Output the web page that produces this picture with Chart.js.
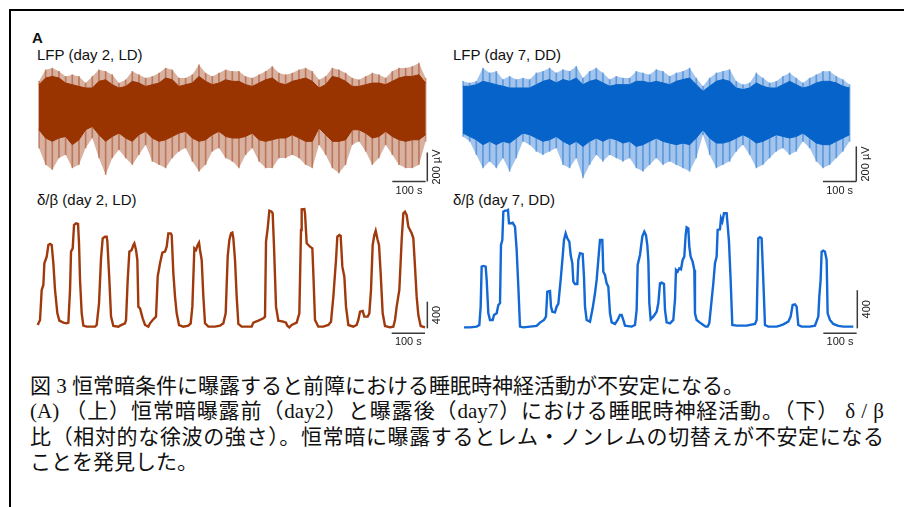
<!DOCTYPE html>
<html><head><meta charset="utf-8">
<script src="https://cdn.jsdelivr.net/npm/chart.js@4.4.1/dist/chart.umd.min.js"></script>
<style>
html,body{margin:0;padding:0;background:#fff;}
#fig{position:relative;width:904px;height:507px;overflow:hidden;background:#fff;}
.bd{position:absolute;background:#000;}
.lab{position:absolute;font-family:"Liberation Sans",Arial,sans-serif;font-size:15px;line-height:15px;color:#111;white-space:nowrap;}
canvas{position:absolute;}
.cap{position:absolute;left:30px;width:854px;font-family:"Liberation Serif","Noto Sans CJK JP",serif;font-size:21px;line-height:25px;color:#111;white-space:nowrap;}
.just{text-align:justify;text-align-last:justify;}
</style></head>
<body>
<div id="fig">
  <div class="bd" style="left:9px;top:9px;width:895px;height:2px"></div>
  <div class="bd" style="left:9px;top:9px;width:2px;height:498px"></div>
  <div class="lab" style="left:32px;top:30px;font-weight:bold">A</div>
  <div class="lab" style="left:37px;top:46.6px">LFP (day 2, LD)</div>
  <div class="lab" style="left:453px;top:46.6px">LFP (day 7, DD)</div>
  <div class="lab" style="left:37px;top:191.8px">δ/β (day 2, LD)</div>
  <div class="lab" style="left:453px;top:191.8px">δ/β (day 7, DD)</div>
  <canvas id="c1" width="460" height="150" style="left:0px;top:50px"></canvas>
  <canvas id="c2" width="464" height="150" style="left:440px;top:50px"></canvas>
  <canvas id="c3" width="460" height="150" style="left:0px;top:200px"></canvas>
  <canvas id="c4" width="464" height="150" style="left:440px;top:200px"></canvas>
  <div class="cap" style="top:374.4px">図 3 恒常暗条件に曝露すると前障における睡眠時神経活動が不安定になる。</div>
  <div class="cap just" style="top:399.4px">(A) （上）恒常暗曝露前（day2）と曝露後（day7）における睡眠時神経活動。（下） δ / β</div>
  <div class="cap just" style="top:425.4px">比（相対的な徐波の強さ）。恒常暗に曝露するとレム・ノンレムの切替えが不安定になる</div>
  <div class="cap" style="top:450.4px">ことを発見した。</div>
</div>
<script>
// ---------- LFP envelopes (µV), sampled every 20 s ----------
const LFP_STEP_S = 20;
const lfpLD_topSpike = [191,271,283,260,225,237,225,179,225,271,260,237,179,202,260,237,214,225,248,283,271,214,214,237,306,248,225,248,271,260,
  260,225,214,237,260,294,248,237,248,271,283,260,202,225,283,271,248,214,202,225,248,237,214,260,283,283,294,317,214];
const lfpLD_topBody = [168,214,225,214,179,168,156,145,145,191,202,168,145,156,191,179,156,168,179,214,202,156,168,179,225,191,168,179,202,191,
  191,168,156,179,202,214,179,168,191,202,214,191,145,168,225,214,191,156,156,168,179,179,168,191,214,225,225,237,179];
const lfpLD_botBody = [-143,-200,-223,-200,-189,-246,-212,-143,-120,-177,-223,-189,-166,-200,-223,-177,-154,-200,-223,-212,-189,-166,-154,-200,-223,-212,-177,-154,-189,-200,
  -200,-189,-166,-212,-223,-212,-200,-200,-177,-200,-223,-223,-131,-177,-223,-223,-212,-143,-143,-166,-200,-189,-154,-189,-212,-223,-212,-212,-177];
const lfpLD_botSpike = [-269,-384,-419,-338,-315,-407,-384,-269,-200,-338,-453,-338,-281,-338,-384,-315,-246,-361,-384,-407,-338,-292,-269,-361,-430,-384,-292,-269,-338,-361,
  -407,-315,-269,-361,-407,-407,-338,-338,-315,-338,-384,-407,-246,-315,-407,-442,-384,-246,-223,-292,-384,-338,-246,-315,-384,-407,-407,-384,-223];

const lfpDD_topSpike = [171,162,171,247,219,228,181,200,181,190,181,219,228,247,219,238,228,257,190,228,247,219,181,200,190,190,228,219,209,238,
  228,200,219,228,247,190,143,190,219,228,238,171,152,162,219,190,162,171,200,219,190,162,190,209,228,228,200,181,152];
const lfpDD_topBody = [143,143,152,171,162,152,143,133,133,133,133,152,171,181,162,181,171,190,152,171,181,162,143,152,152,152,171,171,162,171,
  162,152,171,181,190,152,114,143,171,181,171,133,124,133,162,143,133,133,152,171,152,133,143,162,171,171,162,143,133];
const lfpDD_botBody = [-124,-143,-162,-190,-171,-190,-171,-181,-152,-124,-133,-152,-171,-162,-143,-171,-190,-171,-200,-171,-152,-171,-152,-162,-181,-171,-200,-190,-171,-152,
  -171,-181,-190,-181,-190,-152,-105,-152,-181,-181,-171,-152,-133,-152,-181,-171,-152,-133,-143,-152,-143,-124,-152,-181,-190,-190,-171,-152,-133];
const lfpDD_botSpike = [-143,-171,-247,-323,-285,-323,-266,-342,-266,-171,-190,-228,-247,-228,-209,-304,-323,-266,-380,-304,-247,-285,-247,-266,-285,-266,-323,-342,-304,-266,
  -304,-285,-304,-323,-342,-266,-133,-247,-323,-304,-285,-228,-190,-247,-323,-304,-266,-228,-209,-247,-228,-171,-209,-285,-323,-304,-266,-228,-171];

// ---------- δ/β traces: time (s) and value ----------
const dbLD_t = [0,7,12,17,20,27,32,37,42,47,52,59,65,77,87,92,97,100,105,109,115,121,124,127,132,137,147,172,177,184,
  190,195,202,207,209,215,220,227,242,247,262,265,270,275,282,287,290,295,299,302,307,315,322,332,337,345,355,360,367,374,
  382,387,392,399,402,407,412,417,424,437,452,459,464,470,475,480,484,487,492,497,502,512,532,547,557,564,570,575,580,584,
  587,592,597,602,612,642,647,662,677,682,685,690,695,702,705,709,715,722,737,745,749,755,762,777,785,790,792,800,802,807,
  812,817,824,827,832,842,857,872,880,887,895,899,905,909,914,920,925,932,947,957,962,967,975,980,990,995,1000,1005,1010,1014,
  1020,1024,1029,1035,1042,1057,1067,1072,1077,1085,1092,1097,1102,1107,1112,1117,1122,1127,1132,1137,1142,1149,1162];
const dbLD_v = [50,125,575,650,975,1075,1250,1265,1250,975,575,225,115,85,75,85,575,1150,1200,1550,1575,1565,1275,725,225,40,25,25,50,375,
  1050,1350,1375,1375,1300,725,175,35,25,40,75,125,725,1150,1175,1250,1275,1175,1025,325,300,150,50,25,75,125,175,775,975,1135,
  1150,1225,1425,1425,1400,825,475,225,50,25,40,75,325,1200,1175,1250,1285,1175,1025,475,75,25,25,40,75,225,1075,1325,1425,1435,
  1350,1025,475,65,25,25,85,115,150,175,1300,1500,1765,1750,1725,1225,325,115,100,85,40,15,50,85,225,1475,1785,1790,1725,1275,
  1250,1225,1200,825,125,25,25,50,100,475,1025,1375,1400,1385,925,775,325,50,25,50,125,250,260,175,175,225,575,1250,1400,1465,
  1325,1250,825,225,35,15,25,125,325,575,1325,1725,1750,1700,1525,1475,1425,1350,925,475,200,35,15];

const dbDD_t = [0,18,38,46,50,53,58,65,68,73,78,86,90,98,103,108,111,115,118,123,128,132,135,140,146,153,158,163,168,178,
  218,228,240,246,250,258,261,265,273,278,283,290,296,300,305,310,316,320,325,328,333,340,343,348,356,360,363,368,378,386,
  393,398,403,408,415,418,423,428,433,438,443,453,461,468,473,478,483,503,513,518,521,528,535,541,546,550,553,556,560,568,
  578,583,588,593,600,603,608,618,628,633,636,641,646,651,656,661,665,668,673,676,680,686,691,693,698,708,718,725,731,736,
  743,748,753,758,761,768,771,775,780,788,791,795,800,805,818,848,873,878,883,888,893,898,903,913,938,948,958,973,980,986,
  993,998,1003,1013,1038,1053,1063,1066,1070,1073,1078,1083,1088,1091,1098,1108,1123,1138,1168];
const dbDD_v = [10,10,18,35,228,648,655,648,508,158,88,88,140,158,245,263,875,928,1225,1236,1236,1243,1103,1103,1110,1068,823,438,18,10,
  25,60,88,123,385,392,228,175,168,228,256,508,753,928,998,945,910,770,683,490,466,466,718,788,781,543,228,88,70,210,
  368,508,718,928,928,595,560,473,438,158,63,46,88,140,140,88,28,18,35,193,665,770,963,1015,980,875,718,263,95,123,
  175,263,473,480,466,193,63,53,88,298,613,595,630,620,718,753,980,1061,1050,858,753,700,613,158,88,60,35,18,18,53,
  298,473,683,753,1033,1040,1155,1120,1208,1208,1085,910,508,35,28,28,46,88,945,956,945,508,35,18,18,28,42,70,123,245,
  252,228,35,18,18,28,123,333,508,805,816,805,718,158,88,46,25,18,18];

// ---------- scale-bar plugin ----------
const scaleBarPlugin = {
  id: 'scalebar',
  afterDraw(chart, args, o) {
    const {ctx, chartArea} = chart;
    const xs = chart.scales.x, ys = chart.scales.y;
    ctx.save();
    ctx.strokeStyle = '#3a3a3a';
    ctx.lineWidth = 1.5;
    const hx0 = xs.getPixelForValue(o.hStart), hx1 = xs.getPixelForValue(o.hStart + o.hLen);
    const hy = chartArea.bottom + o.hOff;
    ctx.beginPath(); ctx.moveTo(hx0, hy); ctx.lineTo(hx1, hy); ctx.stroke();
    const vx = xs.getPixelForValue(o.vX);
    const vy0 = ys.getPixelForValue(o.vStart), vy1 = ys.getPixelForValue(o.vStart + o.vLen);
    ctx.beginPath(); ctx.moveTo(vx, vy0); ctx.lineTo(vx, vy1); ctx.stroke();
    ctx.fillStyle = '#1a1a1a';
    ctx.font = '11px "Liberation Sans", Arial, sans-serif';
    ctx.textAlign = 'center'; ctx.textBaseline = 'middle';
    ctx.fillText(o.hLabel, (hx0 + hx1) / 2, hy + 9);
    ctx.translate(vx + 9.5, (vy0 + vy1) / 2);
    ctx.rotate(-Math.PI / 2);
    ctx.fillText(o.vLabel, 0, 0);
    ctx.restore();
  }
};

function lfpChart(id, top, tb, bb, bot, dark, haze, spike, yMin, yMax, pad, sb) {
  const times = top.map((_, i) => i * LFP_STEP_S);
  new Chart(document.getElementById(id), {
    type: 'bar',
    data: {datasets: [
      // dense core
      {type: 'line', data: times.map((t, i) => ({x: t, y: tb[i]})), borderColor: dark, borderWidth: 1,
       backgroundColor: dark, fill: '+1', pointRadius: 0, tension: 0, order: 1},
      {type: 'line', data: times.map((t, i) => ({x: t, y: bb[i]})), borderColor: dark, borderWidth: 1,
       fill: false, pointRadius: 0, tension: 0, order: 1},
      // spike envelope haze
      {type: 'line', data: times.map((t, i) => ({x: t, y: top[i]})), borderColor: 'rgba(0,0,0,0)', borderWidth: 0,
       backgroundColor: haze, fill: '+1', pointRadius: 0, tension: 0, order: 3},
      {type: 'line', data: times.map((t, i) => ({x: t, y: bot[i]})), borderColor: 'rgba(0,0,0,0)', borderWidth: 0,
       fill: false, pointRadius: 0, tension: 0, order: 3},
      // individual spikes
      {type: 'bar', data: times.map((t, i) => ({x: t, y: [bot[i], top[i]]})), backgroundColor: spike,
       barThickness: 1, order: 2}
    ]},
    options: {
      responsive: false, animation: false, events: [],
      layout: {padding: pad},
      plugins: {legend: {display: false}, tooltip: {enabled: false}, scalebar: sb},
      scales: {
        x: {type: 'linear', min: -5, max: 1165, display: false, offset: false},
        y: {min: yMin, max: yMax, display: false}
      }
    },
    plugins: [scaleBarPlugin]
  });
}

function dbChart(id, t, v, color, xMax, yMax, pad, sb) {
  new Chart(document.getElementById(id), {
    type: 'line',
    data: {datasets: [{data: t.map((x, i) => ({x: x, y: v[i]})), borderColor: color, borderWidth: 2.4,
      pointRadius: 0, tension: 0, fill: false, clip: false}]},
    options: {
      responsive: false, animation: false, events: [],
      layout: {padding: pad},
      plugins: {legend: {display: false}, tooltip: {enabled: false}, scalebar: sb},
      scales: {
        x: {type: 'linear', min: 0, max: xMax, display: false},
        y: {min: 0, max: yMax, display: false}
      }
    },
    plugins: [scaleBarPlugin]
  });
}

lfpChart('c1', lfpLD_topSpike, lfpLD_topBody, lfpLD_botBody, lfpLD_botSpike,
  '#993300', 'rgba(165,70,30,0.42)', 'rgba(153,51,0,0.45)',
  -500, 350, {left: 37.3, top: 8.3, right: 32.7, bottom: 18.5},
  {hStart: 1060, hLen: 100, hOff: 0, vX: 1165, vStart: -500, vLen: 200, hLabel: '100 s', vLabel: '200 µV'});
lfpChart('c2', lfpDD_topSpike, lfpDD_topBody, lfpDD_botBody, lfpDD_botSpike,
  '#0563c9', 'rgba(35,115,210,0.42)', 'rgba(5,99,201,0.45)',
  -400, 300, {left: 21.3, top: 8.7, right: 52.7, bottom: 18.5},
  {hStart: 1080, hLen: 100, hOff: 0, vX: 1180, vStart: -400, vLen: 200, hLabel: '100 s', vLabel: '200 µV'});
dbChart('c3', dbLD_t, dbLD_v, '#a03a0c', 1162, 1800, {left: 37.7, top: 8.33, right: 35, bottom: 21.67},
  {hStart: 1062, hLen: 100, hOff: 5, vX: 1169, vStart: 0, vLen: 400, hLabel: '100 s', vLabel: '400'});
dbChart('c4', dbDD_t, dbDD_v, '#1268d4', 1168, 1260, {left: 24, top: 8.33, right: 50.7, bottom: 21.67},
  {hStart: 1078, hLen: 100, hOff: 5, vX: 1180, vStart: 0, vLen: 400, hLabel: '100 s', vLabel: '400'});
</script>
</body></html>
